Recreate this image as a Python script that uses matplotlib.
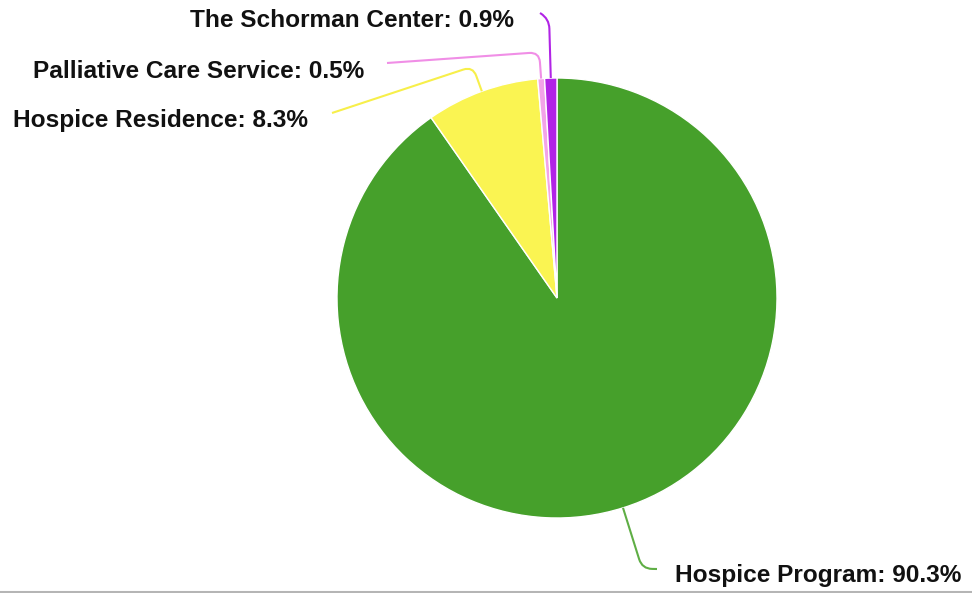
import matplotlib
matplotlib.use("Agg")
import matplotlib.pyplot as plt
import numpy as np
from matplotlib.path import Path
from matplotlib.patches import PathPatch
from matplotlib.lines import Line2D

categories = ["Hospice Program", "Hospice Residence", "Palliative Care Service", "The Schorman Center"]
values = [90.3, 8.3, 0.5, 0.9]
colors = ["#46a02b", "#faf452", "#f3a3e8", "#b124e6"]
line_colors = ["#5fae45", "#f7ef4a", "#f08ee6", "#b124e6"]

W, H = 972, 593
fig = plt.figure(figsize=(W / 100, H / 100), dpi=100)
ax = fig.add_axes([0, 0, 1, 1])

cx, cy_px, R = 557, 298, 220
cy = H - cy_px

wedges, _ = ax.pie(values, colors=colors, startangle=90, counterclock=False,
                   center=(cx, cy), radius=R, frame=True,
                   wedgeprops=dict(edgecolor="white", linewidth=1.0))
ax.set_xlim(0, W)
ax.set_ylim(0, H)
ax.set_aspect("equal")
ax.axis("off")

# label layout: text anchor x, baseline y (px from top), ha, radial extent k, line end px
layout = {
    "Hospice Program": dict(tx=675, ty=582, ha="left", k=1.29, end=(657, 569)),
    "Hospice Residence": dict(tx=308, ty=127, ha="right", k=1.12, end=(332, 113)),
    "Palliative Care Service": dict(tx=364, ty=78, ha="right", k=1.12, end=(387, 63)),
    "The Schorman Center": dict(tx=514, ty=27, ha="right", k=1.27, end=(540, 13)),
}

cum = np.cumsum([0] + values)
total = sum(values)
for i, (cat, val) in enumerate(zip(categories, values)):
    mid = (cum[i] + val / 2) / total * 2 * np.pi  # clockwise from top
    ux, uy = np.sin(mid), np.cos(mid)
    L = layout[cat]
    p0 = (cx + R * ux, cy + R * uy)
    pc = (cx + R * L["k"] * ux, cy + R * L["k"] * uy)
    end = (L["end"][0], H - L["end"][1])
    d1 = np.hypot(pc[0] - p0[0], pc[1] - p0[1])
    c = min(10, d1 * 0.4)
    pa = (pc[0] - c * ux, pc[1] - c * uy)
    dx, dy = end[0] - pc[0], end[1] - pc[1]
    dn = np.hypot(dx, dy)
    pb = (pc[0] + c * dx / dn, pc[1] + c * dy / dn)
    verts = [p0, pa, pc, pb, end]
    codes = [Path.MOVETO, Path.LINETO, Path.CURVE3, Path.CURVE3, Path.LINETO]
    ax.add_patch(PathPatch(Path(verts, codes), facecolor="none",
                           edgecolor=line_colors[i], linewidth=1.5, zorder=3))
    ax.text(L["tx"], H - L["ty"], f"{cat}: {val}%", ha=L["ha"], va="baseline",
            fontsize=17.6, fontweight="bold", family="Liberation Sans", color="#111111")

fig.add_artist(Line2D([0, 1], [1.5 / H, 1.5 / H], transform=fig.transFigure,
                      color="#b5b5b5", linewidth=2.2))

fig.savefig("out.png", dpi=100)
